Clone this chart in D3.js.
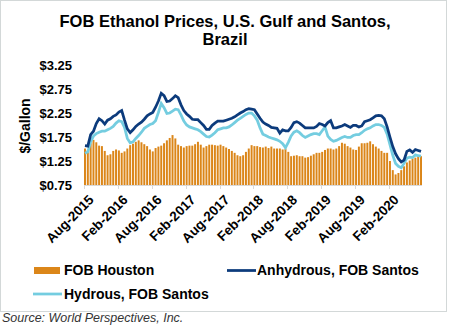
<!DOCTYPE html>
<html>
<head>
<meta charset="utf-8">
<script src="https://cdn.jsdelivr.net/npm/d3@7"></script>
<style>
  body { margin: 0; background: #fff; }
  text { font-family: Arial, "Liberation Sans", sans-serif; }
</style>
</head>
<body>
<div id="chart"></div>
<script>
// semi-monthly observations, Aug 2015 - Jul 2020 ($/gallon)
const houston = [
  1.51, 1.48, 1.62, 1.69, 1.64, 1.57, 1.56, 1.46, 1.37, 1.39, 1.46, 1.49, 1.47, 1.42, 1.45, 1.51, 1.58, 1.61, 1.65, 1.68,
  1.64, 1.60, 1.56, 1.49, 1.45, 1.52, 1.55, 1.57, 1.62, 1.68, 1.73, 1.79, 1.72, 1.59, 1.56, 1.53, 1.56, 1.57, 1.57, 1.60,
  1.65, 1.59, 1.53, 1.56, 1.59, 1.59, 1.58, 1.57, 1.59, 1.56, 1.53, 1.50, 1.46, 1.42, 1.37, 1.35, 1.37, 1.44, 1.51, 1.58,
  1.56, 1.56, 1.54, 1.53, 1.55, 1.52, 1.55, 1.51, 1.51, 1.51, 1.49, 1.51, 1.44, 1.35, 1.36, 1.37, 1.35, 1.35, 1.32, 1.33,
  1.36, 1.39, 1.42, 1.42, 1.44, 1.48, 1.51, 1.51, 1.49, 1.51, 1.56, 1.63, 1.61, 1.56, 1.53, 1.49, 1.48, 1.55, 1.62, 1.62,
  1.63, 1.66, 1.60, 1.55, 1.51, 1.46, 1.42, 1.42, 1.25, 1.06, 0.97, 1.00, 1.06, 1.14, 1.22, 1.26, 1.30, 1.32, 1.35, 1.35
];
const anhydrous = [
  1.57, 1.56, 1.80, 1.87, 2.03, 2.13, 2.09, 2.02, 2.10, 2.13, 2.18, 2.21, 2.27, 2.30, 2.10, 1.92, 1.84, 1.90, 1.97, 2.02,
  2.06, 2.12, 2.19, 2.23, 2.26, 2.37, 2.50, 2.66, 2.61, 2.49, 2.50, 2.55, 2.61, 2.57, 2.42, 2.30, 2.23, 2.18, 2.12, 2.11,
  2.11, 2.05, 1.99, 1.91, 1.91, 1.99, 2.04, 2.08, 2.08, 2.08, 2.10, 2.12, 2.14, 2.17, 2.21, 2.25, 2.28, 2.32, 2.34, 2.33,
  2.32, 2.23, 2.14, 2.06, 2.02, 1.99, 1.95, 1.94, 1.93, 1.83, 1.90, 1.88, 1.88, 1.95, 2.05, 2.07, 2.04, 1.99, 1.94, 1.94,
  1.94, 1.94, 1.97, 2.03, 2.01, 1.98, 2.05, 2.09, 1.94, 1.94, 1.96, 1.98, 2.01, 1.98, 1.95, 1.99, 1.99, 1.96, 1.98, 2.07,
  2.09, 2.11, 2.15, 2.19, 2.20, 2.19, 2.13, 1.96, 1.75, 1.55, 1.40, 1.30, 1.23, 1.27, 1.45, 1.48, 1.43, 1.49, 1.47, 1.45
];
const hydrous = [
  1.41, 1.44, 1.65, 1.77, 1.82, 1.85, 1.87, 1.87, 1.90, 1.93, 1.97, 2.04, 2.09, 2.07, 1.95, 1.72, 1.63, 1.65, 1.72, 1.78,
  1.85, 1.93, 1.97, 2.01, 2.03, 2.09, 2.26, 2.45, 2.36, 2.24, 2.25, 2.29, 2.33, 2.32, 2.21, 2.08, 2.00, 1.96, 1.94, 1.92,
  1.90, 1.86, 1.81, 1.76, 1.75, 1.79, 1.84, 1.90, 1.92, 1.94, 1.94, 1.96, 2.00, 2.05, 2.10, 2.14, 2.18, 2.22, 2.25, 2.25,
  2.19, 2.10, 1.94, 1.81, 1.78, 1.75, 1.73, 1.71, 1.69, 1.66, 1.61, 1.53, 1.64, 1.77, 1.85, 1.88, 1.84, 1.78, 1.74, 1.77,
  1.80, 1.82, 1.82, 1.80, 1.88, 1.96, 1.77, 1.70, 1.66, 1.68, 1.71, 1.74, 1.76, 1.74, 1.74, 1.78, 1.80, 1.80, 1.84, 1.89,
  1.92, 1.94, 1.98, 2.01, 2.01, 1.99, 1.95, 1.81, 1.59, 1.37, 1.20, 1.14, 1.11, 1.20, 1.31, 1.33, 1.32, 1.38, 1.36, 1.35
];
const tickLabels = ["Aug-2015", "Feb-2016", "Aug-2016", "Feb-2017", "Aug-2017",
                    "Feb-2018", "Aug-2018", "Feb-2019", "Aug-2019", "Feb-2020"];
const yTicks = [0.75, 1.25, 1.75, 2.25, 2.75, 3.25];

const W = 450, H = 330;
const plotLeft = 84, plotRight = 422, plotTop = 65, plotBottom = 185;

const svg = d3.select("#chart")
  .append("svg")
  .attr("width", W)
  .attr("height", H);

// frame
svg.append("rect")
  .attr("x", 0.5).attr("y", 0.5)
  .attr("width", 446).attr("height", 311)
  .attr("fill", "#fff")
  .attr("stroke", "#d3d8d8");

const x = d3.scaleBand()
  .domain(d3.range(houston.length))
  .range([plotLeft, plotRight])
  .paddingInner(0.3);

const y = d3.scaleLinear()
  .domain([0.75, 3.25])
  .range([plotBottom, plotTop]);

// title
const title = svg.append("text")
  .attr("text-anchor", "middle")
  .style("font-size", "16.5px")
  .style("font-weight", "bold")
  .attr("fill", "#000");
title.append("tspan").attr("x", 225).attr("y", 27).text("FOB Ethanol Prices, U.S. Gulf and Santos,");
title.append("tspan").attr("x", 225).attr("y", 45).text("Brazil");

// y axis
const yAxis = d3.axisLeft(y)
  .tickValues(yTicks)
  .tickFormat(d => "$" + d.toFixed(2))
  .tickSize(0)
  .tickPadding(12);
svg.append("g")
  .attr("transform", `translate(${plotLeft},0)`)
  .call(yAxis)
  .call(g => g.select(".domain").remove())
  .selectAll("text")
  .style("font-family", "Arial, 'Liberation Sans', sans-serif")
  .style("font-size", "13px")
  .style("font-weight", "bold")
  .attr("fill", "#000");

svg.append("text")
  .attr("transform", "rotate(-90)")
  .attr("x", -126)
  .attr("y", 30)
  .attr("text-anchor", "middle")
  .style("font-size", "14px")
  .style("font-weight", "bold")
  .text("$/Gallon");

// bars
svg.append("g")
  .selectAll("rect")
  .data(houston)
  .join("rect")
  .attr("x", (d, i) => x(i))
  .attr("y", d => y(d))
  .attr("width", x.bandwidth())
  .attr("height", d => y(0.75) - y(d))
  .attr("fill", "#db8619");

// lines
const line = d3.line()
  .x((d, i) => x(i) + x.bandwidth() / 2)
  .y(d => y(d));

svg.append("path")
  .datum(hydrous)
  .attr("d", line)
  .attr("fill", "none")
  .attr("stroke", "#74cde0")
  .attr("stroke-width", 2.75);

svg.append("path")
  .datum(anhydrous)
  .attr("d", line)
  .attr("fill", "none")
  .attr("stroke", "#0c3b7c")
  .attr("stroke-width", 2.75);

// x axis
const tickIdx = tickLabels.map((d, i) => i * 12);
const xAxisG = svg.append("g");
xAxisG.append("line")
  .attr("x1", plotLeft).attr("x2", plotRight)
  .attr("y1", plotBottom + 0.5).attr("y2", plotBottom + 0.5)
  .attr("stroke", "#d9d9d9");
xAxisG.selectAll(".tick")
  .data(tickIdx)
  .join("line")
  .attr("class", "tick")
  .attr("x1", d => Math.round(x(d)) + 0.5)
  .attr("x2", d => Math.round(x(d)) + 0.5)
  .attr("y1", plotBottom)
  .attr("y2", plotBottom + 4)
  .attr("stroke", "#d9d9d9");
xAxisG.selectAll("text")
  .data(tickIdx)
  .join("text")
  .attr("transform", d => `translate(${x(d) + 4},${plotBottom + 9}) rotate(-45)`)
  .attr("text-anchor", "end")
  .attr("dy", "0.7em")
  .style("font-size", "13.5px")
  .style("font-weight", "bold")
  .text((d, i) => tickLabels[i]);

// legend
const legend = svg.append("g").style("font-size", "14px").style("font-weight", "bold");
legend.append("rect")
  .attr("x", 34).attr("y", 267)
  .attr("width", 26).attr("height", 7)
  .attr("fill", "#db8619");
legend.append("text").attr("x", 64).attr("y", 275).text("FOB Houston");
legend.append("line")
  .attr("x1", 227).attr("x2", 256)
  .attr("y1", 270.5).attr("y2", 270.5)
  .attr("stroke", "#0c3b7c").attr("stroke-width", 2.75);
legend.append("text").attr("x", 257).attr("y", 275).text("Anhydrous, FOB Santos");
legend.append("line")
  .attr("x1", 33).attr("x2", 62)
  .attr("y1", 294).attr("y2", 294)
  .attr("stroke", "#74cde0").attr("stroke-width", 2.75);
legend.append("text").attr("x", 64).attr("y", 299).text("Hydrous, FOB Santos");

// source
svg.append("text")
  .attr("x", 2)
  .attr("y", 322)
  .style("font-size", "12.5px")
  .style("font-style", "italic")
  .attr("fill", "#333")
  .text("Source: World Perspectives, Inc.");
</script>
</body>
</html>
